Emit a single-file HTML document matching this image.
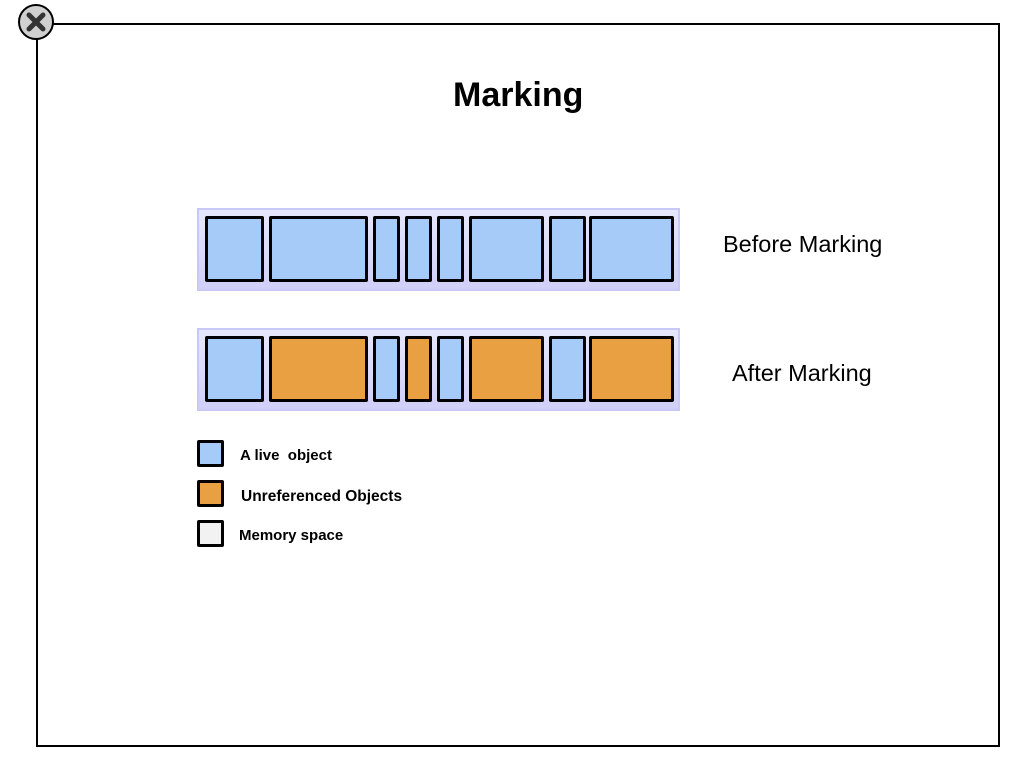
<!DOCTYPE html>
<html><head><meta charset="utf-8"><style>
body{margin:0;width:1018px;height:766px;background:#fff;position:relative;overflow:hidden;font-family:"Liberation Sans",sans-serif}
.a{position:absolute;box-sizing:border-box}
.bar{background:linear-gradient(#e6e6fc,#cfcff8);border:2px solid #c9c9f7}
.b{border:3px solid #000;border-radius:2px}
.l{background:#a6cbf9}.o{background:#e8a043}.m{background:#f2f2f2}
.t{position:absolute;white-space:nowrap}
</style></head><body>
<div class="a" style="left:36px;top:23px;width:964px;height:724px;border:2px solid #000"></div>
<svg class="a" style="left:17px;top:3px" width="38" height="38"><circle cx="19" cy="19" r="17" fill="#d0d0d0" stroke="#000" stroke-width="2"/><path d="M12 12L26 26M26 12L12 26" stroke="#333" stroke-width="5" stroke-linecap="round"/></svg>
<div class="t" style="left:453px;top:76px;font-size:34px;font-weight:bold">Marking</div>
<div class="a bar" style="left:197px;top:208px;width:483px;height:83px"></div>
<div class="a bar" style="left:197px;top:328px;width:483px;height:83px"></div>
<div class="a b l" style="left:205px;top:216px;width:59px;height:66px"></div>
<div class="a b l" style="left:269px;top:216px;width:99px;height:66px"></div>
<div class="a b l" style="left:373px;top:216px;width:27px;height:66px"></div>
<div class="a b l" style="left:405px;top:216px;width:27px;height:66px"></div>
<div class="a b l" style="left:437px;top:216px;width:27px;height:66px"></div>
<div class="a b l" style="left:469px;top:216px;width:75px;height:66px"></div>
<div class="a b l" style="left:549px;top:216px;width:37px;height:66px"></div>
<div class="a b l" style="left:589px;top:216px;width:85px;height:66px"></div>
<div class="a b l" style="left:205px;top:336px;width:59px;height:66px"></div>
<div class="a b o" style="left:269px;top:336px;width:99px;height:66px"></div>
<div class="a b l" style="left:373px;top:336px;width:27px;height:66px"></div>
<div class="a b o" style="left:405px;top:336px;width:27px;height:66px"></div>
<div class="a b l" style="left:437px;top:336px;width:27px;height:66px"></div>
<div class="a b o" style="left:469px;top:336px;width:75px;height:66px"></div>
<div class="a b l" style="left:549px;top:336px;width:37px;height:66px"></div>
<div class="a b o" style="left:589px;top:336px;width:85px;height:66px"></div>
<div class="t" style="left:723px;top:231px;font-size:23.5px">Before Marking</div>
<div class="t" style="left:732px;top:360px;font-size:23.5px">After Marking</div>
<div class="a b l" style="left:197px;top:440px;width:27px;height:27px"></div>
<div class="a b o" style="left:197px;top:480px;width:27px;height:27px"></div>
<div class="a b m" style="left:197px;top:520px;width:27px;height:27px"></div>
<div class="t" style="left:240px;top:447px;font-size:15px;font-weight:bold">A live&nbsp; object</div>
<div class="t" style="left:241px;top:488px;font-size:15.5px;font-weight:bold">Unreferenced Objects</div>
<div class="t" style="left:239px;top:527px;font-size:15px;font-weight:bold">Memory space</div>
</body></html>
